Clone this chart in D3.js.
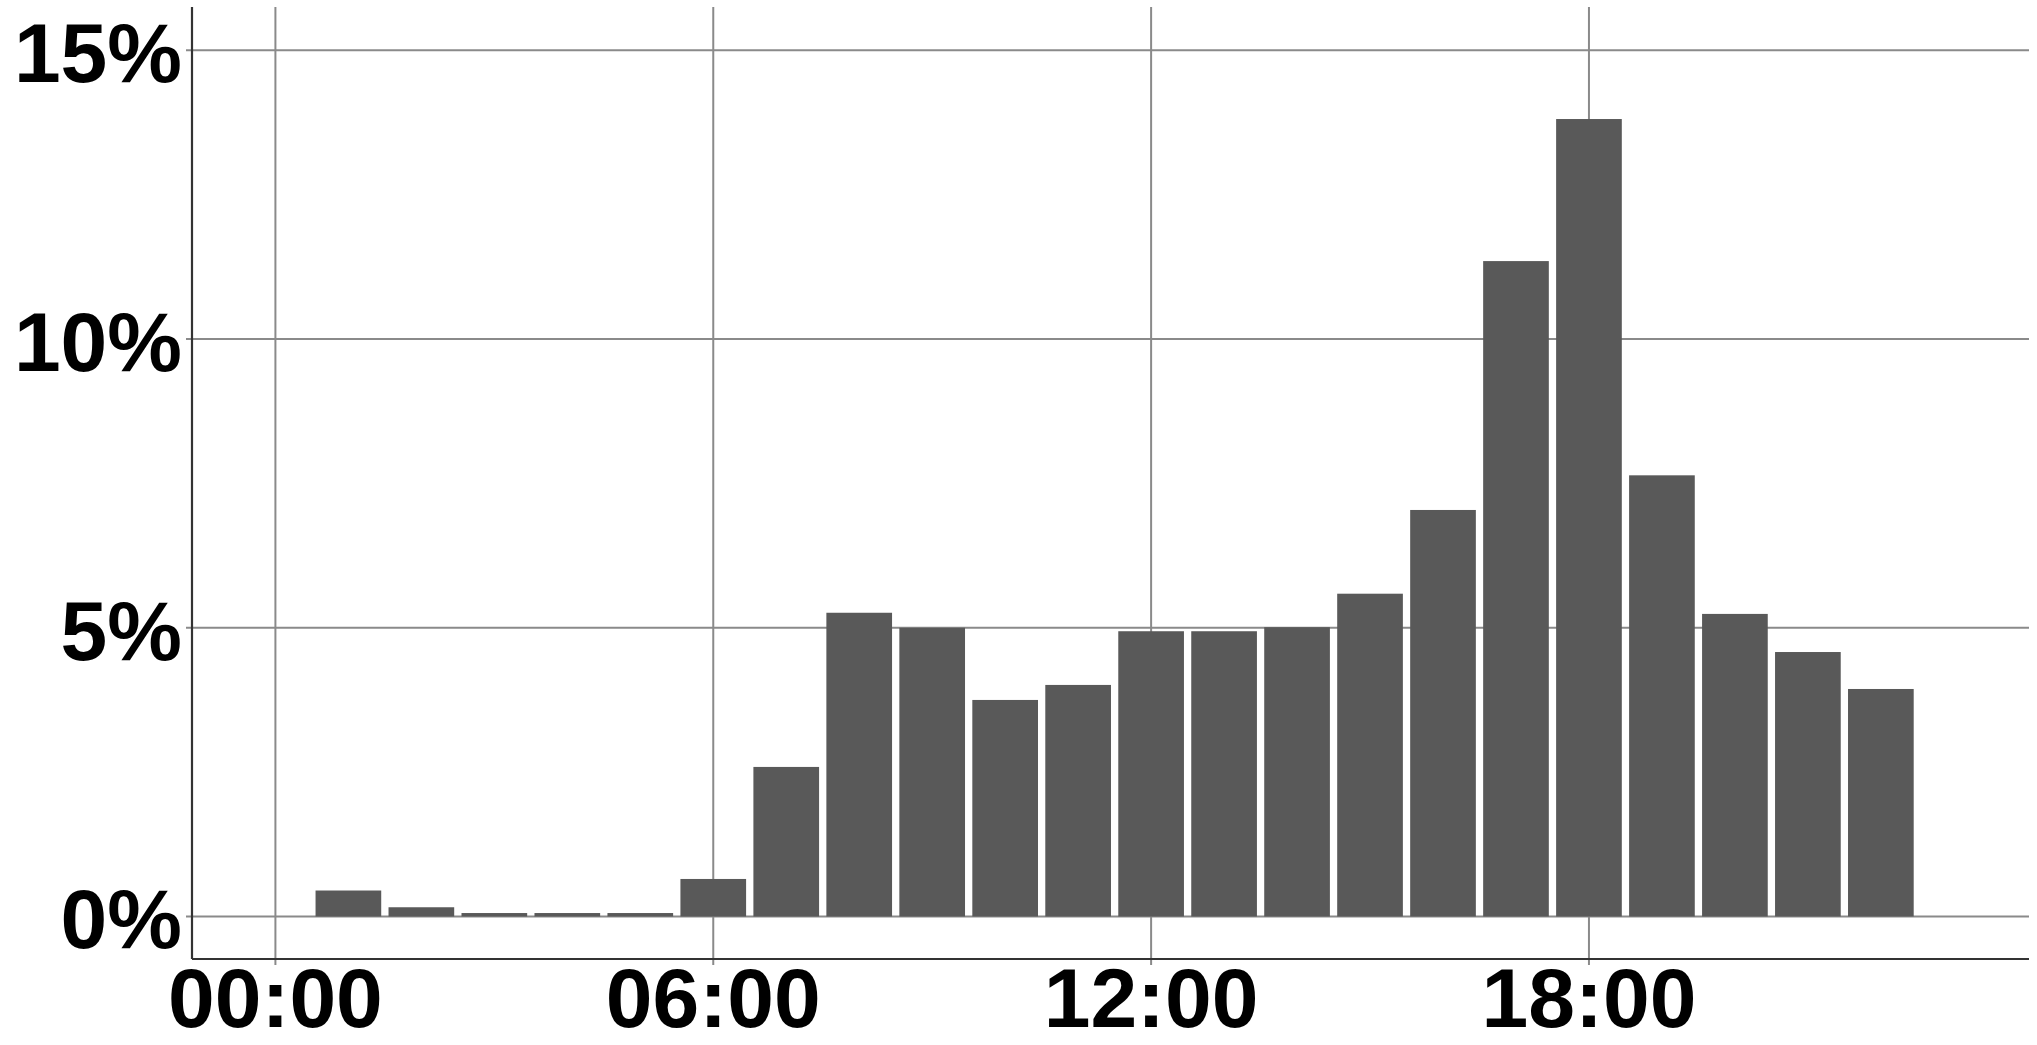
<!DOCTYPE html>
<html>
<head>
<meta charset="utf-8">
<script src="https://cdn.jsdelivr.net/npm/d3@7"></script>
<style>
html,body{margin:0;padding:0;background:#fff;}
svg{display:block;}
text{font-family:"Liberation Sans",Arial,Helvetica,sans-serif;font-weight:bold;fill:#000;}
</style>
</head>
<body>
<script>
// Data
const hours = [1,2,3,4,5,6,7,8,9,10,11,12,13,14,15,16,17,18,19,20,21,22];
const shares = [0.45,0.16,0.06,0.06,0.06,0.65,2.59,5.26,5.0,3.75,4.01,4.94,4.94,5.01,5.59,7.04,11.35,13.81,7.64,5.24,4.58,3.94];
const xTicks = [0,6,12,18];
const xTickLabels = ["00:00","06:00","12:00","18:00"];
const yTicks = [0,5,10,15];
const yTickLabels = ["0%","5%","10%","15%"];

(function(){
const W = 2037, H = 1045;
const pLeft = 192, pRight = 2029, pTop = 7, pBottom = 959;

const svg = d3.select("body").append("svg").attr("width", W).attr("height", H);

const x = d3.scaleLinear().domain([-1.143, 24.03]).range([pLeft, pRight]);
const y = d3.scaleLinear().domain([-0.736, 15.75]).range([pBottom, pTop]);

// grid
const g = svg.append("g");
g.selectAll(".hg").data(yTicks).join("line")
  .attr("x1", pLeft - 6).attr("x2", pRight)
  .attr("y1", d => y(d)).attr("y2", d => y(d))
  .attr("stroke", "#8a8a8a").attr("stroke-width", 2);
g.selectAll(".vg").data(xTicks).join("line")
  .attr("x1", d => x(d)).attr("x2", d => x(d))
  .attr("y1", pTop).attr("y2", pBottom + 6)
  .attr("stroke", "#8a8a8a").attr("stroke-width", 2);

// bars
const bw = x(0.9) - x(0);
svg.append("g").selectAll("rect").data(hours.map((h, i) => ({h, v: shares[i]}))).join("rect")
  .attr("x", d => x(d.h) - bw / 2)
  .attr("width", bw)
  .attr("y", d => y(d.v))
  .attr("height", d => y(0) - y(d.v))
  .attr("fill", "#595959");

// axes lines
svg.append("line").attr("x1", pLeft).attr("x2", pLeft).attr("y1", pTop).attr("y2", pBottom)
  .attr("stroke", "#333").attr("stroke-width", 2.2);
svg.append("line").attr("x1", pLeft).attr("x2", pRight).attr("y1", pBottom).attr("y2", pBottom)
  .attr("stroke", "#333").attr("stroke-width", 2.2);

// labels
svg.append("g").selectAll("text").data(yTicks).join("text")
  .attr("x", 182).attr("y", d => y(d) + 32)
  .attr("text-anchor", "end")
  .attr("font-size", 84)
  .text((d, i) => yTickLabels[i]);
svg.append("g").selectAll("text").data(xTicks).join("text")
  .attr("x", d => x(d)).attr("y", 1027)
  .attr("text-anchor", "middle")
  .attr("font-size", 84)
  .text((d, i) => xTickLabels[i]);
})();
</script>
</body>
</html>
